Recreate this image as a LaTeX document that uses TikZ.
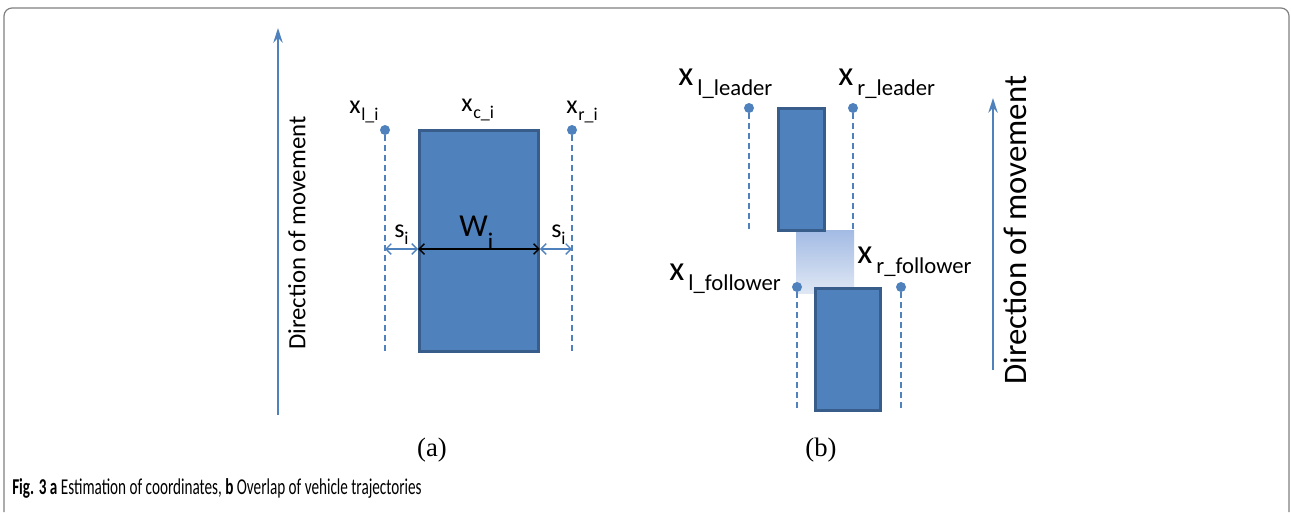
\documentclass[tikz,border=0pt]{standalone}
\usepackage{fontspec}
\setmainfont{Carlito}
\newfontfamily\panelfont{Liberation Serif}
\newfontfamily\capfont[FakeStretch=0.67]{Carlito}
\usetikzlibrary{arrows.meta,positioning}
\definecolor{carblue}{HTML}{4F81BD}
\definecolor{caredge}{HTML}{385D8A}
\definecolor{gaptop}{HTML}{A3BBE4}
\definecolor{gapbottom}{HTML}{DFE7F4}
\definecolor{framegray}{HTML}{808080}
\newcommand{\xlab}[4]{#1\kern#4em\raisebox{-0.3em}{\fontsize{#3}{#3}\selectfont #2}}
\tikzset{
  vehicle/.style={draw=caredge,fill=carblue,line width=2.2pt,inner sep=0pt},
  marker/.style={circle,fill=carblue,inner sep=0pt,minimum size=7.5pt},
  trace/.style={draw=carblue,line width=1pt,dash pattern=on 4.5pt off 3pt},
  heading/.style={-{Stealth[length=11pt,width=7pt]},draw=carblue,line width=1.4pt},
  gapline/.style={{Straight Barb[length=4pt,width=8pt]}-{Straight Barb[length=4pt,width=8pt]},
    draw=carblue,line width=1pt},
  widthline/.style={{Straight Barb[length=4pt,width=8pt]}-{Straight Barb[length=4pt,width=8pt]},
    draw=black,line width=1.1pt},
  coordlabel/.style={inner sep=0pt,anchor=base west,font=\fontsize{19.5}{19.5}\selectfont},
  bigcoord/.style={inner sep=0pt,anchor=base west,font=\fontsize{26}{26}\selectfont},
  movelabel/.style={rotate=90,inner sep=0pt,font=\fontsize{#1}{#1}\selectfont},
  panel/.style={inner sep=0pt,font=\panelfont\fontsize{20}{20}\selectfont}
}

\begin{document}
\begin{tikzpicture}[x=0.75pt,y=-0.75pt]
  \useasboundingbox (0,0) rectangle (1291,512);
  \draw[framegray,line width=0.9pt,rounded corners=6pt] (4,512) -- (4,8) -- (1289,8) -- (1289,512);

  % (a) estimation of coordinates
  \coordinate (movea0) at (278,415);
  \coordinate (movea1) at (278,28);
  \draw[heading] (movea0) -- (movea1);
  \node[movelabel=18.6] (movea) at (297,233) {Direction of movement};
  \node[vehicle,minimum width=89.25pt,minimum height=165.75pt] (car) at (479,241) {};
  \node[marker] (li) at (385,130) {};
  \node[marker] (ri) at (572,130) {};
  \coordinate (liend) at (385,353);
  \coordinate (riend) at (572,353);
  \draw[trace] (li) -- (liend);
  \draw[trace] (ri) -- (riend);
  \node[coordlabel] (lilabel) at (349,113) {\xlab{x}{l\_i}{13.5}{0.03}};
  \node[coordlabel] (cilabel) at (461,111) {\xlab{x}{c\_i}{13.5}{0.03}};
  \node[coordlabel] (rilabel) at (566,113) {\xlab{x}{r\_i}{13.5}{0.03}};
  \coordinate (sl) at (385,249);
  \coordinate (sr) at (572,249);
  \draw[gapline] (sl) -- (car.west |- sl);
  \draw[widthline] (car.west |- sl) -- (car.east |- sl);
  \draw[gapline] (car.east |- sr) -- (sr);
  \node[coordlabel] (sleft) at (394,237) {s\raisebox{-0.3em}{\fontsize{13.5}{13.5}\selectfont i}};
  \node[coordlabel] (sright) at (551,237) {s\raisebox{-0.3em}{\fontsize{13.5}{13.5}\selectfont i}};
  \node[coordlabel,font=\fontsize{24}{24}\selectfont] (wi) at (459,236)
    {W\raisebox{-0.45em}{\fontsize{19}{19}\selectfont i}};
  \node[panel] (pa) at (432,450) {(a)};

  % (b) overlap of vehicle trajectories
  \node[minimum width=43.5pt,minimum height=47.25pt,inner sep=0pt,
    top color=gaptop,bottom color=gapbottom] (gap) at (825,261.5) {};
  \node[vehicle,minimum width=34.5pt,minimum height=91.5pt] (leader) at (801.5,169.5) {};
  \node[vehicle,minimum width=48.75pt,minimum height=91.5pt] (follower) at (848,349.5) {};
  \node[marker] (ll) at (749,108) {};
  \node[marker] (rl) at (853,108) {};
  \node[marker] (lf) at (797,287) {};
  \node[marker] (rf) at (901,287) {};
  \coordinate (llend) at (749,232);
  \coordinate (rlend) at (853,232);
  \coordinate (lfend) at (797,411);
  \coordinate (rfend) at (901,411);
  \draw[trace] (ll) -- (llend);
  \draw[trace] (rl) -- (rlend);
  \draw[trace] (lf) -- (lfend);
  \draw[trace] (rf) -- (rfend);
  \node[bigcoord] (lllabel) at (678,85) {\xlab{x}{l\_leader}{17}{0.12}};
  \node[bigcoord] (rllabel) at (838,85) {\xlab{x}{r\_leader}{17}{0.12}};
  \node[bigcoord] (lflabel) at (669,280) {\xlab{x}{l\_follower}{17}{0.12}};
  \node[bigcoord] (rflabel) at (857,263) {\xlab{x}{r\_follower}{17}{0.12}};
  \coordinate (moveb0) at (993,370);
  \coordinate (moveb1) at (993,98);
  \draw[heading] (moveb0) -- (moveb1);
  \node[movelabel=24.6] (moveb) at (1015,230) {Direction of movement};
  \node[panel] (pb) at (821,450) {(b)};

  \node[inner sep=0pt,anchor=base west,font=\capfont\fontsize{17}{17}\selectfont] (caption) at (12,494)
    {\textbf{Fig. 3 a} Estimation of coordinates, \textbf{b} Overlap of vehicle trajectories};
\end{tikzpicture}
\end{document}
